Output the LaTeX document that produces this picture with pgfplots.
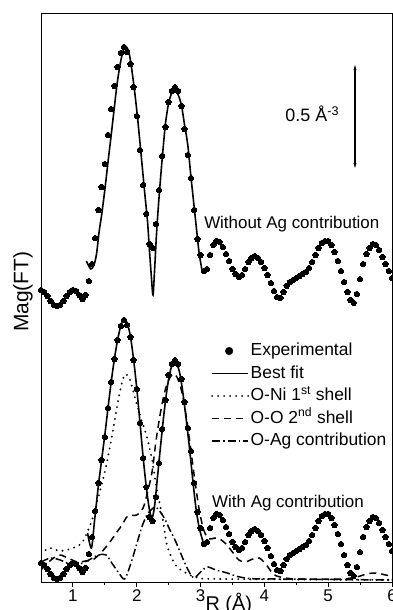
\documentclass[border=0pt]{standalone}
\usepackage{fontspec}
\setmainfont{Liberation Sans}
\usepackage{pgfplots}
\pgfplotsset{compat=1.18}
\usepackage{pgfplotstable}
\usetikzlibrary{arrows.meta}

\pgfplotstableread{
x y
0.50 292
0.55 290
0.60 286
0.65 281
0.70 277
0.75 276
0.80 277
0.85 281
0.90 286
0.95 290
1.00 292
1.05 291
1.10 287
1.15 283
1.20 287
1.25 301
1.30 318
1.35 344
1.40 372
1.45 395
1.50 418
1.55 447
1.60 473
1.65 496
1.70 515
1.75 529
1.80 535
1.85 530
1.90 518
1.95 495
2.00 466
2.05 432
2.10 397
2.15 368
2.20 338
2.25 334
2.30 358
2.35 392
2.40 426
2.45 455
2.50 480
2.55 491
2.60 495
2.65 491
2.70 476
2.75 453
2.80 427
2.85 404
2.90 372
2.95 343
3.00 327
3.05 311
3.10 313
3.15 327
3.20 337
3.25 341
3.30 340
3.35 335
3.40 328
3.45 321
3.50 313
3.55 308
3.60 305
3.65 307
3.70 313
3.75 320
3.80 324
3.85 326
3.90 324
3.95 320
4.00 314
4.05 307
4.10 299
4.15 291
4.20 285
4.25 284
4.30 290
4.35 296
4.40 300
4.45 302
4.50 304
4.55 306
4.60 308
4.65 310
4.70 314
4.75 320
4.80 327
4.85 334
4.90 339
4.95 341
5.00 341
5.05 337
5.10 330
5.15 321
5.20 311
5.25 300
5.30 290
5.35 282
5.40 279
5.45 288
5.50 303
5.55 318
5.60 328
5.65 334
5.70 338
5.75 337
5.80 332
5.85 325
5.90 318
5.95 311
6.00 304
}\expdata

\pgfplotstableread{
x y
1.21 321
1.28 313
1.33 317
1.37 328
1.41 350
1.45 367
1.50 392
1.55 420
1.60 447
1.65 475
1.69 497
1.73 514
1.77 527
1.81 535
1.85 534
1.89 526
1.93 509
1.97 489
2.01 466
2.05 440
2.09 413
2.13 386
2.17 360
2.20 331
2.23 305
2.255 287
2.28 312
2.31 348
2.35 385
2.40 424
2.45 458
2.50 479
2.55 489
2.60 492
2.65 487
2.70 477
2.75 457
2.80 437
2.85 405
2.90 375
2.95 345
2.98 328
3.03 309
}\fitupper

\pgfplotstableread{
x y
1.23 49
1.29 34
1.34 62
1.40 97
1.45 122
1.50 147
1.55 174
1.60 200
1.65 223
1.70 242
1.75 256
1.80 263
1.85 259
1.90 246
1.95 223
2.00 194
2.05 160
2.10 125
2.15 95
2.20 72
2.24 64
2.28 76
2.33 108
2.38 140
2.43 170
2.48 195
2.53 212
2.58 220
2.63 218
2.68 207
2.73 186
2.78 160
2.83 132
2.88 101
2.93 73
2.98 54
3.04 40
}\fitlower

\pgfplotstableread{
x y
0.50 28
0.63 34
0.80 31
1.00 34
1.15 40
1.30 62
1.40 85
1.50 110
1.58 135
1.65 160
1.72 185
1.78 202
1.83 208
1.89 203
1.94 192
2.05 167
2.16 145
2.24 122
2.31 95
2.41 62
2.47 38
2.55 24
2.63 15
2.83 7
3.00 4
3.30 3
6.00 2
}\oni

\pgfplotstableread{
x y
0.50 12
0.62 20
0.78 27
0.92 24
1.07 20
1.20 21
1.31 22
1.45 30
1.58 40
1.69 50
1.77 57
1.86 66
2.00 67
2.10 74
2.17 90
2.24 110
2.30 140
2.36 165
2.43 188
2.50 202
2.57 208
2.63 205
2.70 192
2.77 168
2.84 136
2.91 102
2.98 72
3.05 52
3.13 43
3.22 44
3.30 43
3.40 38
3.50 30
3.60 22
3.70 20
3.82 23
3.92 24
4.02 18
4.14 8
4.25 5
4.50 3
5.20 3
5.45 5
5.60 8
5.75 9
5.90 7
6.00 6
}\oo

\pgfplotstableread{
x y
0.50 20
0.65 24
0.80 22
0.95 18
1.10 18
1.25 22
1.40 27
1.52 27
1.62 18
1.72 9
1.81 3
1.90 17
2.00 38
2.08 55
2.16 67
2.24 73
2.30 75
2.37 70
2.44 63
2.52 52
2.60 42
2.68 30
2.76 18
2.84 8
2.90 4
2.97 8
3.05 13
3.12 15
3.20 13
3.30 11
3.42 9
3.55 6
3.70 4
3.90 3
4.20 3
6.00 2
}\oag

\tikzset{
  fitline/.style={black, line width=1.6bp},
  oniline/.style={black, line width=2.1bp, line cap=round, dash pattern=on 0bp off 6bp},
  ooline/.style={black, line width=1.5bp, dash pattern=on 7bp off 5bp},
  oagline/.style={black, line width=1.5bp, dash pattern=on 8bp off 3bp on 1.5bp off 3bp},
}

\begin{document}
\begin{tikzpicture}
\begin{axis}[
  scale only axis, width=351bp, height=569bp,
  xmin=0.5, xmax=6, ymin=0, ymax=569,
  xtick={1,2,3,4,5,6}, minor x tick num=1,
  xtick pos=left, tick align=outside,
  major tick length=4.5bp, minor tick length=3bp,
  ytick=\empty,
  axis line style={line width=0.9bp},
  every tick/.style={black, line width=0.9bp},
  /pgf/number format/assume math mode=true,
  ticklabel style={font=\fontsize{17}{19}\selectfont},
  xlabel={R (Å)}, ylabel={Mag(FT)},
  every axis x label/.style={at={(axis description cs:0.535,-0.019)}, anchor=north, inner sep=0pt, font=\fontsize{20}{22}\selectfont},
  every axis y label/.style={at={(axis description cs:-0.023,0.51)}, rotate=90, anchor=south, inner sep=0pt, font=\fontsize{21}{23}\selectfont},
  legend style={at={(axis description cs:0.484,0.423)}, anchor=north west, draw=none, fill=none,
    font=\fontsize{17.5}{19}\selectfont, inner sep=0pt, row sep=3.5bp,
    nodes={inner sep=1.5bp, text height=12.5bp, text depth=3.5bp}},
  legend cell align=left,
]
% components
\addplot[oniline, smooth, forget plot] table {\oni};
\addplot[ooline, smooth, forget plot] table {\oo};
\addplot[oagline, smooth, forget plot] table {\oag};
% fits
\addplot[fitline, smooth, tension=0.5, forget plot] table {\fitupper};
\addplot[fitline, smooth, tension=0.5, forget plot] table {\fitlower};
% experimental
\addplot[only marks, mark=*, mark size=2.7bp, mark options={fill=black, draw=black, line width=0pt}, forget plot] table {\expdata};
\addplot[only marks, mark=*, mark size=2.7bp, mark options={fill=black, draw=black, line width=0pt}, forget plot] table[y expr=\thisrow{y}-273] {\expdata};

\addlegendimage{legend image code/.code={\fill[black] (17bp,0bp) circle (3.8bp);}}
\addlegendentry{Experimental}
\addlegendimage{legend image code/.code={\draw[fitline] (0bp,0bp) -- (36bp,0bp);}}
\addlegendentry{Best fit}
\addlegendimage{legend image code/.code={\draw[oniline] (0bp,0bp) -- (36bp,0bp);}}
\addlegendentry{O-Ni 1\textsuperscript{st} shell}
\addlegendimage{legend image code/.code={\draw[ooline] (0bp,0bp) -- (36bp,0bp);}}
\addlegendentry{O-O 2\textsuperscript{nd} shell}
\addlegendimage{legend image code/.code={\draw[oagline] (0bp,0bp) -- (36bp,0bp);}}
\addlegendentry{O-Ag contribution}

\node[anchor=base, font=\fontsize{17}{19}\selectfont] at (axis cs:4.43,353) {Without Ag contribution};
\node[anchor=base, font=\fontsize{17}{19}\selectfont] at (axis cs:4.37,74) {With Ag contribution};
\node[anchor=base, font=\fontsize{18}{20}\selectfont] at (axis cs:4.75,460) {0.5 Å\textsuperscript{-3}};
\draw[{Stealth[length=5bp,width=3bp]}-{Stealth[length=5bp,width=3bp]}, line width=1.5bp] (axis cs:5.42,517) -- (axis cs:5.42,414);
\end{axis}
\pgfresetboundingbox
\path[use as bounding box] ([xshift=-41bp,yshift=-28bp]current axis.south west) rectangle ([xshift=1bp,yshift=13bp]current axis.north east);
\end{tikzpicture}
\end{document}
